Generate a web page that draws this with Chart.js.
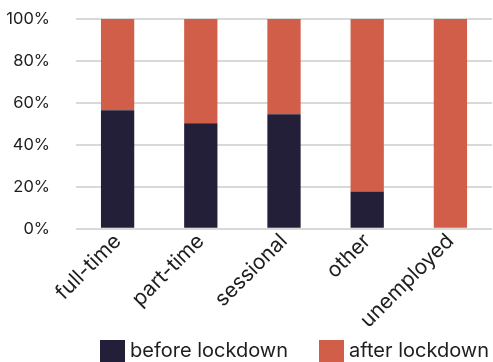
<!DOCTYPE html>
<html>
<head>
<meta charset="utf-8">
<script src="https://cdn.jsdelivr.net/npm/chart.js@4"></script>
<style>
  html, body { margin: 0; padding: 0; background: #fff; overflow: hidden; }
  #wrap { position: relative; width: 493px; height: 362px; overflow: hidden; }
  #legend {
    position: absolute; left: 100px; top: 340px;
    display: flex; align-items: flex-start; white-space: nowrap;
    font-family: Inter, "Open Sans", sans-serif; font-size: 20px; color: #1e1e1e;
  }
  #legend .item { display: flex; align-items: flex-start; margin-right: 31px; }
  #legend .box { width: 25px; height: 25px; margin-right: 5px; }
  #legend .txt { line-height: 24px; margin-top: -2px; }
</style>
</head>
<body>
<div id="wrap">
  <canvas id="c" width="493" height="362"></canvas>
  <div id="legend"></div>
</div>
<script>
// Employment status, share of respondents before and after lockdown (%)
const categories = ['full-time', 'part-time', 'sessional', 'other', 'unemployed'];
const beforeLockdown = [56.5, 50.3, 54.6, 17.8, 0];
const afterLockdown = [43.5, 49.7, 45.4, 82.2, 100];
const yTicks = [0, 20, 40, 60, 80, 100];

const FONT = 'Inter, "Open Sans", sans-serif';
const TEXT = '#1e1e1e';

// Legend rendered as HTML from the chart's own legend items
const htmlLegend = {
  id: 'htmlLegend',
  afterUpdate(chart) {
    const host = document.getElementById('legend');
    host.innerHTML = '';
    const items = chart.options.plugins.legend.labels.generateLabels(chart);
    items.forEach(item => {
      const row = document.createElement('div');
      row.className = 'item';
      const box = document.createElement('span');
      box.className = 'box';
      box.style.background = item.fillStyle;
      const txt = document.createElement('span');
      txt.className = 'txt';
      txt.textContent = item.text;
      row.appendChild(box);
      row.appendChild(txt);
      host.appendChild(row);
    });
  }
};

new Chart(document.getElementById('c'), {
  type: 'bar',
  data: {
    labels: categories,
    datasets: [
      { label: 'before lockdown', data: beforeLockdown, backgroundColor: '#231f38' },
      { label: 'after lockdown', data: afterLockdown, backgroundColor: '#d05e48' }
    ]
  },
  plugins: [htmlLegend],
  options: {
    responsive: false,
    animation: false,
    barPercentage: 0.4,
    categoryPercentage: 1,
    layout: { padding: { top: 19, right: 1, left: 7, bottom: 29 } },
    plugins: {
      tooltip: { enabled: false },
      legend: { display: false }
    },
    scales: {
      x: {
        stacked: true,
        grid: { display: false, drawTicks: false },
        border: { display: false },
        // rotated labels may overhang to the left; the y axis already leaves room
        afterFit: (axis) => { axis.paddingLeft = 0; axis.paddingRight = 0; },
        ticks: {
          color: TEXT,
          font: { family: FONT, size: 21 },
          minRotation: 45,
          maxRotation: 45,
          padding: 0
        }
      },
      y: {
        stacked: true,
        min: 0,
        max: 100,
        border: { display: false },
        grid: { color: '#d9d9d9', lineWidth: 2, drawTicks: false },
        afterBuildTicks: (scale) => { scale.ticks = yTicks.map(v => ({ value: v })); },
        afterFit: (axis) => { axis.paddingTop = 0; axis.paddingBottom = 0; axis.width = 69; },
        ticks: {
          color: TEXT,
          font: { family: FONT, size: 16.5 },
          padding: 26,
          callback: (v) => v + '%'
        }
      }
    }
  }
});
</script>
</body>
</html>
